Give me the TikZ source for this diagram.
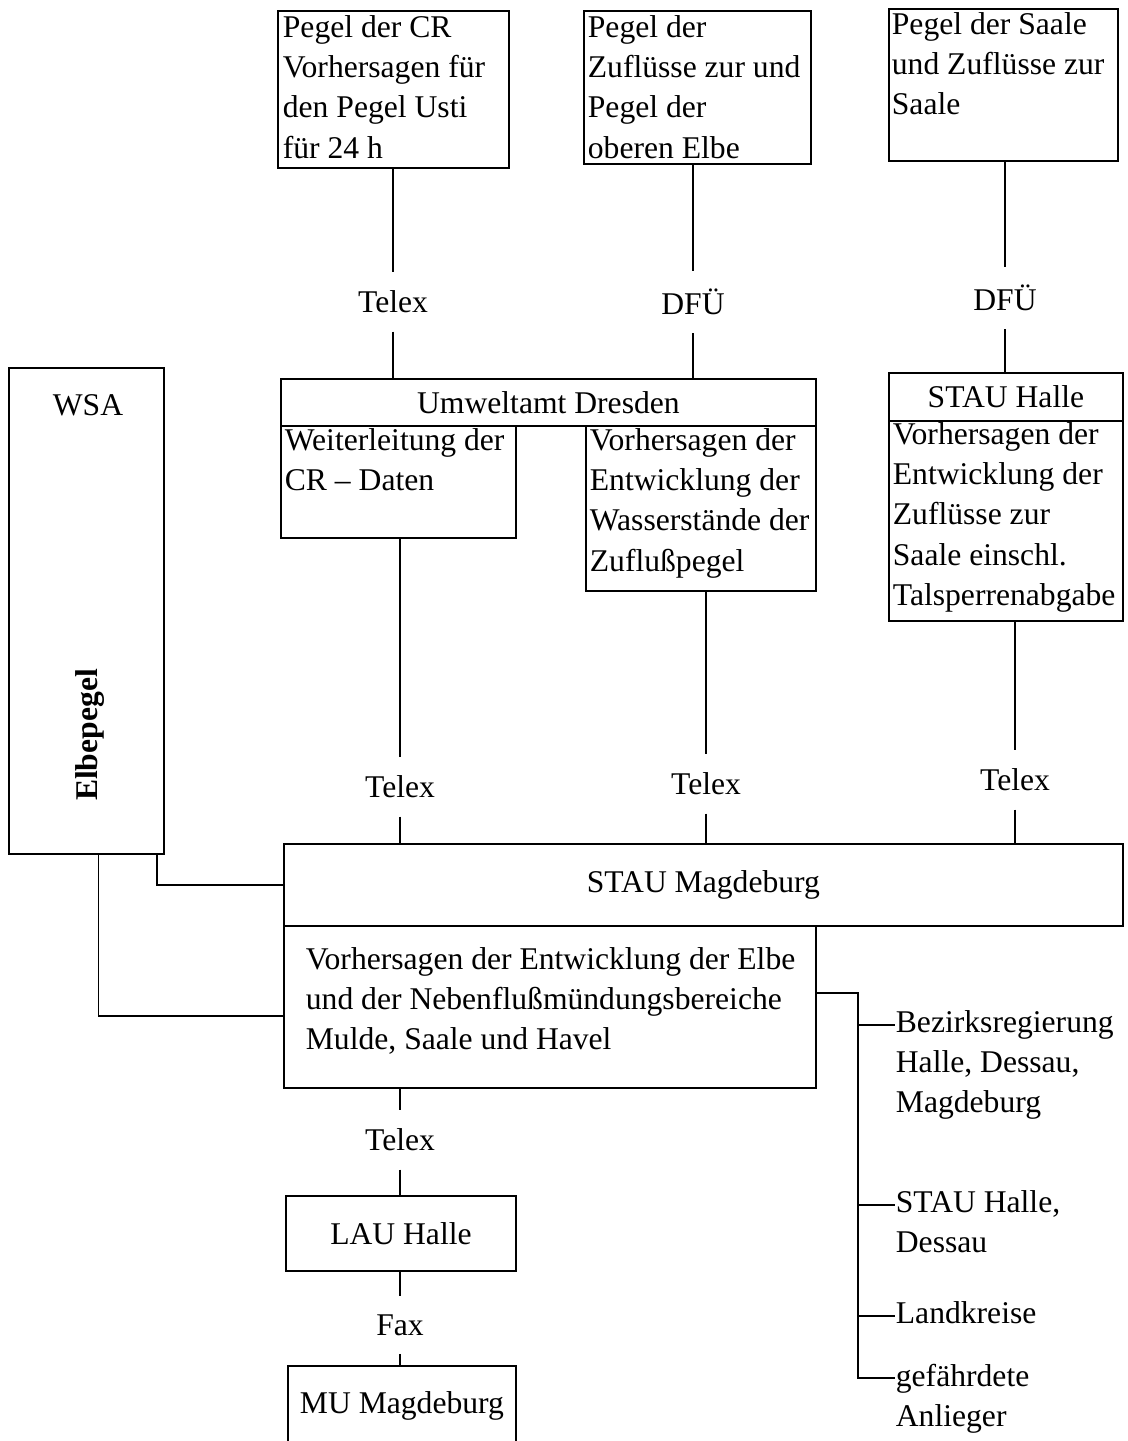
\documentclass[tikz,border=0pt]{standalone}
\usepackage{fontspec}
\setmainfont{Liberation Serif}

\begin{document}
\begin{tikzpicture}[
  x=0.02cm,y=-0.02cm,
  font=\fontsize{18}{22.8}\selectfont,
  box/.style={draw,line width=1.1pt,anchor=north west,inner sep=0pt},
  txt/.style={anchor=north west,align=left,inner sep=0pt},
  via/.style={inner xsep=2pt,inner ysep=10pt},
  line width=1pt]

\useasboundingbox (0,0) rectangle (1128,1441);
\clip (0,0) rectangle (1128,1441);

%============================ sources ============================
\node[box,minimum width=4.62cm,minimum height=3.14cm] (crbox) at (277,10) {};
\node[txt] (crtext) at (282,15) {Pegel der CR\\Vorhersagen für\\den Pegel Usti\\für 24 h};

\node[box,minimum width=4.54cm,minimum height=3.06cm] (zubox) at (583,10) {};
\node[txt] (zutext) at (587,15) {Pegel der\\Zuflüsse zur und\\Pegel der\\oberen Elbe};

\node[box,minimum width=4.58cm,minimum height=3.04cm] (saale) at (888,8) {};
\node[txt] (saaletext) at (891,12) {Pegel der Saale\\und Zuflüsse zur\\Saale};

% --- transfer labels on the upper lines ---
\node[via] (telA) at (393,302) {Telex};
\node[via] (dfuA) at (693,302) {DFÜ};
\node[via] (dfuB) at (1005,298) {DFÜ};

%============================ regional offices ============================
\node[box,minimum width=10.7cm,minimum height=0.94cm] (umw) at (280,378) {Umweltamt Dresden};

\node[box,minimum width=4.7cm,minimum height=2.24cm] (weit) at (280,425) {};
\node[txt] (weittext) at (284,428) {Weiterleitung der\\CR -- Daten};

\node[box,minimum width=4.6cm,minimum height=3.3cm] (zufl) at (585,425) {};
\node[txt] (zufltext) at (589,428) {Vorhersagen der\\Entwicklung der\\Wasserstände der\\Zuflußpegel};

\node[box,minimum width=4.68cm,minimum height=0.96cm] (halleh) at (888,372) {STAU Halle};
\node[box,minimum width=4.68cm,minimum height=4.0cm] (halleb) at (888,420) {};
\node[txt] (halletext) at (892,422) {Vorhersagen der\\Entwicklung der\\Zuflüsse zur\\Saale einschl.\\Talsperrenabgabe};

% WSA column
\node[box,minimum width=3.1cm,minimum height=9.72cm] (wsa) at (8,367) {};
\node (wsatext) at (88,405) {WSA};
\node[font=\fontsize{18}{22.8}\selectfont\bfseries,rotate=90] (elbe) at (90,735) {Elbepegel};

\node[via] (telB) at (400,787) {Telex};
\node[via] (telC) at (706,784) {Telex};
\node[via] (telD) at (1015,780) {Telex};

%============================ STAU Magdeburg ============================
\node[box,minimum width=16.78cm,minimum height=1.64cm] (magd) at (283,843) {STAU Magdeburg};
\node[box,minimum width=10.64cm,minimum height=3.24cm] (mbody) at (283,925) {};
\node[txt] (mtext) at (305,947) {Vorhersagen der Entwicklung der Elbe\\und der Nebenflußmündungsbereiche\\Mulde, Saale und Havel};

% --- recipients ---
\node[txt] (bez) at (895,1010) {Bezirksregierung\\Halle, Dessau,\\Magdeburg};
\node[txt] (stau) at (895,1190) {STAU Halle,\\Dessau};
\node[txt] (lkr) at (895,1301) {Landkreise};
\node[txt] (gef) at (895,1363) {gefährdete\\Anlieger};

\coordinate (split) at (858,993);
\coordinate (jBez) at (858,1025);
\coordinate (jStau) at (858,1205);
\coordinate (jLkr) at (858,1316);
\coordinate (jGef) at (858,1378);

% --- downstream chain ---
\node[via] (telE) at (400,1140) {Telex};
\node[box,minimum width=4.6cm,minimum height=1.5cm] (lau) at (285,1195) {LAU Halle};
\node[via] (fax) at (400,1325) {Fax};
\node[box,minimum width=4.56cm,minimum height=1.6cm] (mu) at (287,1365) {MU Magdeburg};

%============================ connectors ============================
\draw (crbox.south -| telA) -- (telA) -- (telA |- umw.north);
\draw (zubox.south -| dfuA) -- (dfuA) -- (dfuA |- umw.north);
\draw (saale.south -| dfuB) -- (dfuB) -- (dfuB |- halleh.north);
\draw (weit.south -| telB) -- (telB) -- (telB |- magd.north);
\draw (zufl.south -| telC) -- (telC) -- (telC |- magd.north);
\draw (halleb.south -| telD) -- (telD) -- (telD |- magd.north);

\draw (wsa.south east) ++(-8,0) |- (magd.west);
\draw (wsa.south) ++(12,0) |- ([yshift=-0.18cm]mbody.west);

\draw (mbody.east |- split) -- (split) -- (jGef) -- (jGef -| gef.west);
\foreach \j/\n in {jBez/bez,jStau/stau,jLkr/lkr}
  \draw (\j) -- (\j -| \n.west);

\draw (mbody.south -| telE) -- (telE) -- (telE |- lau.north);
\draw (lau.south -| fax) -- (fax) -- (fax |- mu.north);

\end{tikzpicture}
\end{document}
